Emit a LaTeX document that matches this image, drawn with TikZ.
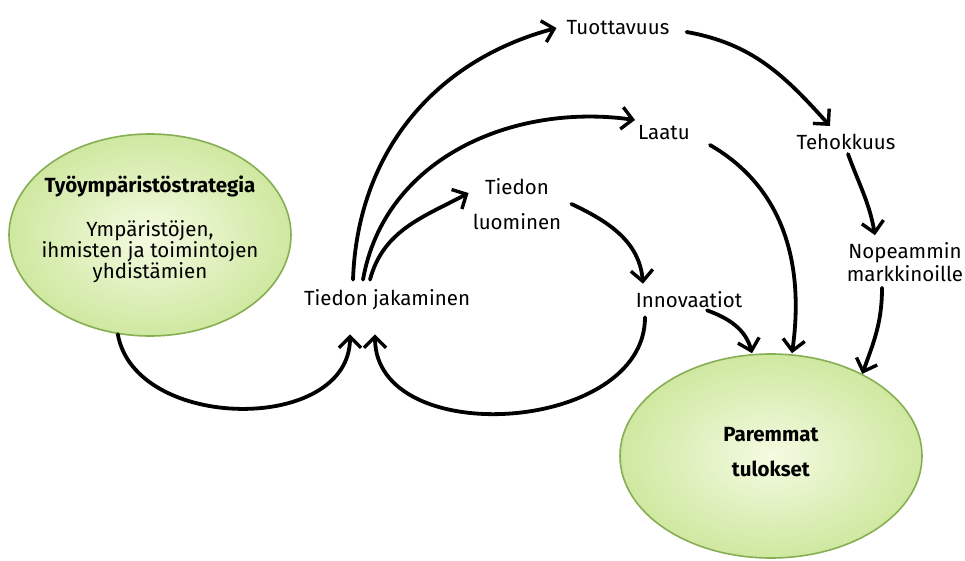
\documentclass[tikz,border=0pt]{standalone}
\usepackage{fontspec}
\setmainfont{Fira Sans}
\usepackage{tikz}
\usetikzlibrary{shapes.geometric,arrows.meta}

\definecolor{blobin}{HTML}{F4FBE2}
\definecolor{blobout}{HTML}{CFE8A0}
\definecolor{blobline}{HTML}{86AE52}

\tikzset{
  flow/.style={-{Straight Barb[length=11pt,width=22pt,line width=3.4pt]}, line width=3.8pt, line cap=round},
  word/.style={inner sep=2pt, align=center, font=\fontsize{20.5}{24}\selectfont},
  blob/.style={ellipse, draw=blobline, line width=1.6pt, inner color=blobin, outer color=blobout}
}

\begin{document}
\begin{tikzpicture}[x=1pt, y=1pt]
\useasboundingbox (0,0) rectangle (965,560);

% Draw ellipses.
\node[blob, minimum width=282pt, minimum height=202pt] (L) at (150,325) {};
\node[word] (Lt) at ([yshift=6pt]L.center) {\textbf{Työympäristöstrategia}\\[20pt] Ympäristöjen,\\[-3pt] ihmisten ja toimintojen\\[-3pt] yhdistämien};
\node[blob, minimum width=302pt, minimum height=204pt] (P) at (771,104) {};
\node[word] (Pt) at ([yshift=4pt]P.center) {\textbf{Paremmat}\\[11pt] \textbf{tulokset}};

% Draw labels.
\node[word] (jak) at (387,260) {Tiedon jakaminen};
\node[word] (luo) at (517,356) {Tiedon\\[11pt] luominen};
\node[word] (inn) at (689,260) {Innovaatiot};
\node[word] (tuo) at (618,532) {Tuottavuus};
\node[word] (laa) at (664,427) {Laatu};
\node[word] (teh) at (846,418) {Tehokkuus};
\node[word] (nop) at (905,298) {Nopeammin\\[-1pt] markkinoille};

% Draw arrows.
\draw[flow] (L.252) to[out=-80, in=-90, looseness=1.1] ([xshift=-37pt,yshift=-22pt]jak.south);
\draw[flow] ([xshift=-44pt,yshift=-7pt]inn.south) to[out=-90, in=-90, looseness=1.1] ([xshift=-12pt,yshift=-22pt]jak.south);

\draw[flow] ([xshift=-34pt,yshift=8pt]jak.north) to[out=88, in=195] ([xshift=-8pt]tuo.west);
\draw[flow] ([xshift=-24pt,yshift=8pt]jak.north) to[out=80, in=172] ([xshift=-1pt,yshift=13pt]laa.west);
\draw[flow] ([xshift=-17pt,yshift=8pt]jak.north) to[out=75, in=208] ([xshift=-2pt,yshift=11pt]luo.west);

\draw[flow] ([xshift=8pt]luo.east) to[out=-25, in=95] ([xshift=-46pt,yshift=6pt]inn.north);
\draw[flow] ([xshift=18pt]inn.south) to[out=-20, in=105] ([xshift=-19pt]P.north);
\draw[flow] ([xshift=18pt,yshift=-12pt]laa.east) to[out=-30, in=82] ([xshift=21pt]P.north);

\draw[flow] ([xshift=15pt,yshift=-4pt]tuo.east) to[out=-10, in=132] ([xshift=-16pt,yshift=6pt]teh.north);
\draw[flow] ([xshift=2pt,yshift=-2pt]teh.south) to[out=-70, in=100] ([xshift=-30pt,yshift=5pt]nop.north);
\draw[flow] ([xshift=-23pt,yshift=-4pt]nop.south) to[out=-90, in=70] (P.42);

\end{tikzpicture}
\end{document}
